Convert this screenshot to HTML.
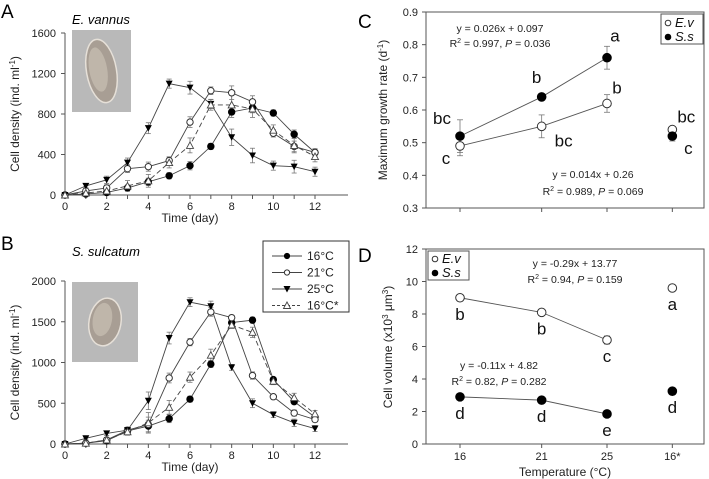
<!DOCTYPE html>
<html><head><meta charset="utf-8"><style>
body{margin:0;background:#fff}
svg{display:block;font-family:"Liberation Sans",Arial,sans-serif}
</style></head><body>
<svg id="fig" width="709" height="479" viewBox="0 0 709 479" xmlns="http://www.w3.org/2000/svg">
<rect width="709" height="479" fill="#fff"/>
<g id="root"></g>
</svg>
<script>
// ---- Data ----
const days = [0,1,2,3,4,5,6,7,8,9,10,11,12];
const seriesNames = ['16°C','21°C','25°C','16°C*'];
const aS16  = [0,10,25,70,130,190,290,480,820,860,810,600,420];
const aS21  = [0,40,70,260,280,340,720,1030,1010,920,610,480,420];
const aS25  = [0,90,150,320,660,1100,1060,900,570,390,290,280,230];
const aS16s = [0,20,40,90,140,320,490,890,890,850,640,490,380];
const aErr  = [0,20,40,50,60,50,70,50,90,80,50,70,50];
const bS16  = [0,10,40,160,220,310,550,980,1490,1520,790,520,330];
const bS21  = [0,10,50,170,240,810,1250,1620,1550,840,580,380,300];
const bS25  = [0,70,130,170,530,1300,1740,1690,940,500,360,260,190];
const bS16s = [0,10,50,150,260,450,820,1090,1460,1370,770,570,370];
const bErr  = [0,20,30,40,120,80,60,70,40,60,40,50,40];
const aYTicks = [0,400,800,1200,1600];
const bYTicks = [0,500,1000,1500,2000];
const xTicks = [0,2,4,6,8,10,12];
const temps = ['16','21','25','16*'];
const tempVal = [16,21,25,29];
const cEv = [0.49,0.55,0.62,0.54];
const cEvErr = [0.03,0.035,0.027,0.01];
const cSs = [0.52,0.64,0.76,0.52];
const cSsErr = [0.05,0.005,0.035,0.015];
const cEvLab = ['c','bc','b','bc'];
const cSsLab = ['bc','b','a','c'];
const cYTicks = [0.3,0.4,0.5,0.6,0.7,0.8,0.9];
const dEv = [9.0,8.1,6.4,9.6];
const dEvErr = [0.1,0.1,0.25,0.1];
const dSs = [2.9,2.7,1.85,3.25];
const dEvLab = ['b','b','c','a'];
const dSsLab = ['d','d','e','d'];
const dYTicks = [0,2,4,6,8,10,12];

const NS='http://www.w3.org/2000/svg';
const root=document.getElementById('root');
function mk(tag,attrs,parent,text){const e=document.createElementNS(NS,tag);for(const k in attrs)e.setAttribute(k,attrs[k]);if(text!==undefined)e.textContent=text;(parent||root).appendChild(e);return e;}
function lin(d0,d1,r0,r1){return v=>r0+(v-d0)/(d1-d0)*(r1-r0);}
const AX='#555';

function marker(g,type,x,y,r){
  let m;
  if(type===0) m=mk('circle',{cx:x,cy:y,r:r||3.2,fill:'#000',stroke:'#000'},g);
  else if(type===1) m=mk('circle',{cx:x,cy:y,r:r||3.2,fill:'#fff',stroke:'#333','stroke-width':1},g);
  else if(type===2) m=mk('polygon',{points:`${x-3.5},${y-3} ${x+3.5},${y-3} ${x},${y+3.5}`,fill:'#000'},g);
  else m=mk('polygon',{points:`${x-3.5},${y+3} ${x+3.5},${y+3} ${x},${y-3.5}`,fill:'#fff',stroke:'#444','stroke-width':0.9},g);
  
  
  return m;
}

function timePanel(id,x0,x1,yBot,yTop,ymax,yTicks,series,err,letter,species,ly){
  const g=mk('g',{});
  
  
  const sx=lin(0,12,65,315), sy=lin(0,ymax,yBot,yTop);
  mk('line',{x1:65,y1:yTop,x2:65,y2:yBot,stroke:AX},g);
  mk('line',{x1:65,y1:yBot,x2:348,y2:yBot,stroke:AX},g);
  yTicks.forEach(t=>{const y=sy(t);mk('line',{x1:61,y1:y,x2:65,y2:y,stroke:AX},g);
    const tl=mk('text',{x:56,y:y+4,'font-size':11,'text-anchor':'end',fill:'#222'},g,t);});
  days.forEach(d=>{mk('line',{x1:sx(d),y1:yBot,x2:sx(d),y2:yBot+4,stroke:AX},g);});
  xTicks.forEach(t=>{const tl=mk('text',{x:sx(t),y:yBot+15,'font-size':11,'text-anchor':'middle',fill:'#222'},g,t);});
  const xt=mk('text',{x:190,y:yBot+27,'font-size':12,'text-anchor':'middle',fill:'#222'},g,'Time (day)');
  
  const ym=(yBot+yTop)/2;
  const yt=mk('text',{x:0,y:0,'font-size':12,'text-anchor':'middle',fill:'#222',transform:`translate(19,${ym}) rotate(-90)`},g);
  
  yt.innerHTML='Cell density (ind. ml<tspan dy="-4" font-size="8">-1</tspan><tspan dy="4">)</tspan>';
  const pl=mk('text',{x:1,y:ly,'font-size':19,fill:'#000'},g,letter);
  const sp=mk('text',{x:72,y:ly+6,'font-size':13,'font-style':'italic',fill:'#000'},g,species);
  series.forEach((s,i)=>{
    const pts=days.map((d,j)=>sx(d)+','+sy(s[j])).join(' ');
    const p=mk('polyline',{points:pts,fill:'none',stroke:'#444','stroke-width':0.9,'stroke-dasharray':i===3?'5,3':'none'},g);
    
    
    days.forEach((d,j)=>{
      const e=err[j]*(0.6+0.15*i);
      if(e>0){const x=sx(d);mk('line',{x1:x,y1:sy(s[j]-e),x2:x,y2:sy(s[j]+e),stroke:'#777','stroke-width':0.8},g);
        mk('line',{x1:x-2.5,y1:sy(s[j]+e),x2:x+2.5,y2:sy(s[j]+e),stroke:'#777','stroke-width':0.8},g);
        mk('line',{x1:x-2.5,y1:sy(s[j]-e),x2:x+2.5,y2:sy(s[j]-e),stroke:'#777','stroke-width':0.8},g);}
    });
  });
  series.forEach((s,i)=>days.forEach((d,j)=>marker(g,i,sx(d),sy(s[j]))));
  return g;
}

function inset(x,y,w,h,name,rx,ry,rot){
  const g=mk('g',{});
  mk('rect',{x:x,y:y,width:w,height:h,fill:'#b9b9b9'},g);
  mk('ellipse',{cx:x+w/2,cy:y+h/2,rx:rx,ry:ry,fill:'#a89e94',stroke:'#e6e0d8','stroke-width':1.5,transform:`rotate(${rot} ${x+w/2} ${y+h/2})`},g);
  mk('ellipse',{cx:x+w/2-3,cy:y+h/2-2,rx:rx*0.6,ry:ry*0.7,fill:'#c9c0b4',opacity:0.7,transform:`rotate(${rot} ${x+w/2} ${y+h/2})`},g);
}

timePanel('A',65,348,195,33,1600,aYTicks,[aS16,aS21,aS25,aS16s],aErr,'A','E. vannus',18);
inset(72,30,59,82,'inset-e-vannus',15,32,-10);
timePanel('B',65,348,444,281,2000,bYTicks,[bS16,bS21,bS25,bS16s],bErr,'B','S. sulcatum',250);
inset(72,282,66,80,'inset-s-sulcatum',16,24,10);

(function(){
  const g=mk('g',{});
  mk('rect',{x:263,y:241,width:86,height:71,fill:'#fff',stroke:'#333','stroke-width':1},g);
  seriesNames.forEach((n,i)=>{const y=256+i*16.5;
    const e=mk('g',{},g);
    mk('line',{x1:272,y1:y,x2:302,y2:y,stroke:'#444','stroke-width':0.9,'stroke-dasharray':i===3?'3,2':'none'},e);
    marker(e,i,287,y,2.6);
    mk('text',{x:307,y:y+4,'font-size':12,fill:'#222'},e,n);
  });
})();

function catPanel(id,yBot,yTop,ymin,ymax,yTicks,ev,evErr,ss,ssErr,letter,ly,fmt){
  const g=mk('g',{});
  const sx=lin(16,25,460,607), sy=lin(ymin,ymax,yBot,yTop);
  mk('rect',{x:426,y:yTop,width:278,height:yBot-yTop,fill:'none',stroke:AX},g);
  yTicks.forEach(t=>{const y=sy(t);mk('line',{x1:422,y1:y,x2:426,y2:y,stroke:AX},g);
    const tl=mk('text',{x:418,y:y+4,'font-size':11,'text-anchor':'end',fill:'#222'},g,fmt(t));});
  tempVal.forEach((t,i)=>{mk('line',{x1:sx(t),y1:yBot,x2:sx(t),y2:yBot+4,stroke:AX},g);});
  const pl=mk('text',{x:358,y:ly,'font-size':19,fill:'#000'},g,letter);
  [[ev,evErr,1],[ss,ssErr,0]].forEach(([s,e])=>{
    const pts=[0,1,2].map(i=>sx(tempVal[i])+','+sy(s[i])).join(' ');
    const p=mk('polyline',{points:pts,fill:'none',stroke:'#555','stroke-width':0.9},g);
    
    tempVal.forEach((t,i)=>{const x=sx(t);if(e[i]>0){mk('line',{x1:x,y1:sy(s[i]-e[i]),x2:x,y2:sy(s[i]+e[i]),stroke:'#777','stroke-width':0.8},g);
      mk('line',{x1:x-3,y1:sy(s[i]+e[i]),x2:x+3,y2:sy(s[i]+e[i]),stroke:'#777','stroke-width':0.8},g);
      mk('line',{x1:x-3,y1:sy(s[i]-e[i]),x2:x+3,y2:sy(s[i]-e[i]),stroke:'#777','stroke-width':0.8},g);}});
  });
  tempVal.forEach((t,i)=>{marker(g,1,sx(t),sy(ev[i]),4.3);marker(g,0,sx(t),sy(ss[i]),4.3);});
  return {g,sx,sy};
}

(function(){
  const {g,sx,sy}=catPanel('C',208,12,0.3,0.9,cYTicks,cEv,cEvErr,cSs,cSsErr,'C',28,t=>t.toFixed(1));
  const yt=mk('text',{x:0,y:0,'font-size':12,'text-anchor':'middle',fill:'#222',transform:'translate(387,110) rotate(-90)'},g);
  
  yt.innerHTML='Maximum growth rate (d<tspan dy="-4" font-size="8">-1</tspan><tspan dy="4">)</tspan>';
  const evOff=[[-14,12],[22,14],[10,-16],[14,-13]], ssOff=[[-18,-18],[-5,-20],[8,-22],[16,12]];
  tempVal.forEach((t,i)=>{
    const a=mk('text',{x:sx(t)+evOff[i][0],y:sy(cEv[i])+evOff[i][1]+6,'font-size':17,'text-anchor':'middle',fill:'#111'},g,cEvLab[i]);
    const b=mk('text',{x:sx(t)+ssOff[i][0],y:sy(cSs[i])+ssOff[i][1]+6,'font-size':17,'text-anchor':'middle',fill:'#111'},g,cSsLab[i]);
  });
  const e1=mk('text',{x:500,y:32,'font-size':10.5,'text-anchor':'middle',fill:'#222'},g,'y = 0.026x + 0.097');
  const e2=mk('text',{x:500,y:47,'font-size':10.5,'text-anchor':'middle',fill:'#222'},g);
  e2.innerHTML='R<tspan dy="-4" font-size="7">2</tspan><tspan dy="4"> = 0.997, </tspan><tspan font-style="italic">P</tspan> = 0.036';
  const e3=mk('text',{x:593,y:178,'font-size':10.5,'text-anchor':'middle',fill:'#222'},g,'y = 0.014x + 0.26');
  const e4=mk('text',{x:593,y:195,'font-size':10.5,'text-anchor':'middle',fill:'#222'},g);
  e4.innerHTML='R<tspan dy="-4" font-size="7">2</tspan><tspan dy="4"> = 0.989, </tspan><tspan font-style="italic">P</tspan> = 0.069';
  const lg=mk('g',{},g);
  mk('rect',{x:661,y:14,width:42,height:30,fill:'#fff',stroke:'#555'},lg);
  marker(lg,1,668,23,2.8);marker(lg,0,668,37,2.8);
  mk('text',{x:675,y:27,'font-size':13,'font-style':'italic',fill:'#111'},lg,'E.v');
  mk('text',{x:675,y:41,'font-size':13,'font-style':'italic',fill:'#111'},lg,'S.s');
})();

(function(){
  const {g,sx,sy}=catPanel('D',444,249,0,12,dYTicks,dEv,dEvErr,dSs,dSs.map(()=>0),'D',262,t=>t);
  tempVal.forEach((t,i)=>{const tl=mk('text',{x:sx(t),y:460,'font-size':11,'text-anchor':'middle',fill:'#222'},g,temps[i]);});
  const xt=mk('text',{x:565,y:476,'font-size':12,'text-anchor':'middle',fill:'#222'},g,'Temperature (°C)');
  const yt=mk('text',{x:0,y:0,'font-size':12,'text-anchor':'middle',fill:'#222',transform:'translate(392,347) rotate(-90)'},g);
  
  yt.innerHTML='Cell volume (x10<tspan dy="-4" font-size="8">3</tspan><tspan dy="4"> μm</tspan><tspan dy="-4" font-size="8">3</tspan><tspan dy="4">)</tspan>';
  tempVal.forEach((t,i)=>{
    const a=mk('text',{x:sx(t),y:sy(dEv[i])+22,'font-size':17,'text-anchor':'middle',fill:'#111'},g,dEvLab[i]);
    const b=mk('text',{x:sx(t),y:sy(dSs[i])+22,'font-size':17,'text-anchor':'middle',fill:'#111'},g,dSsLab[i]);
  });
  const e1=mk('text',{x:575,y:267,'font-size':10.5,'text-anchor':'middle',fill:'#222'},g,'y = -0.29x + 13.77');
  const e2=mk('text',{x:575,y:283,'font-size':10.5,'text-anchor':'middle',fill:'#222'},g);
  e2.innerHTML='R<tspan dy="-4" font-size="7">2</tspan><tspan dy="4"> = 0.94, </tspan><tspan font-style="italic">P</tspan> = 0.159';
  const e3=mk('text',{x:499,y:369,'font-size':10.5,'text-anchor':'middle',fill:'#222'},g,'y = -0.11x + 4.82');
  const e4=mk('text',{x:499,y:385,'font-size':10.5,'text-anchor':'middle',fill:'#222'},g);
  e4.innerHTML='R<tspan dy="-4" font-size="7">2</tspan><tspan dy="4"> = 0.82, </tspan><tspan font-style="italic">P</tspan> = 0.282';
  const lg=mk('g',{},g);
  mk('rect',{x:428,y:251,width:41,height:29,fill:'#fff',stroke:'#555'},lg);
  marker(lg,1,435,259,2.8);marker(lg,0,435,273,2.8);
  mk('text',{x:442,y:263,'font-size':13,'font-style':'italic',fill:'#111'},lg,'E.v');
  mk('text',{x:442,y:277,'font-size':13,'font-style':'italic',fill:'#111'},lg,'S.s');
})();
</script>
</body></html>
